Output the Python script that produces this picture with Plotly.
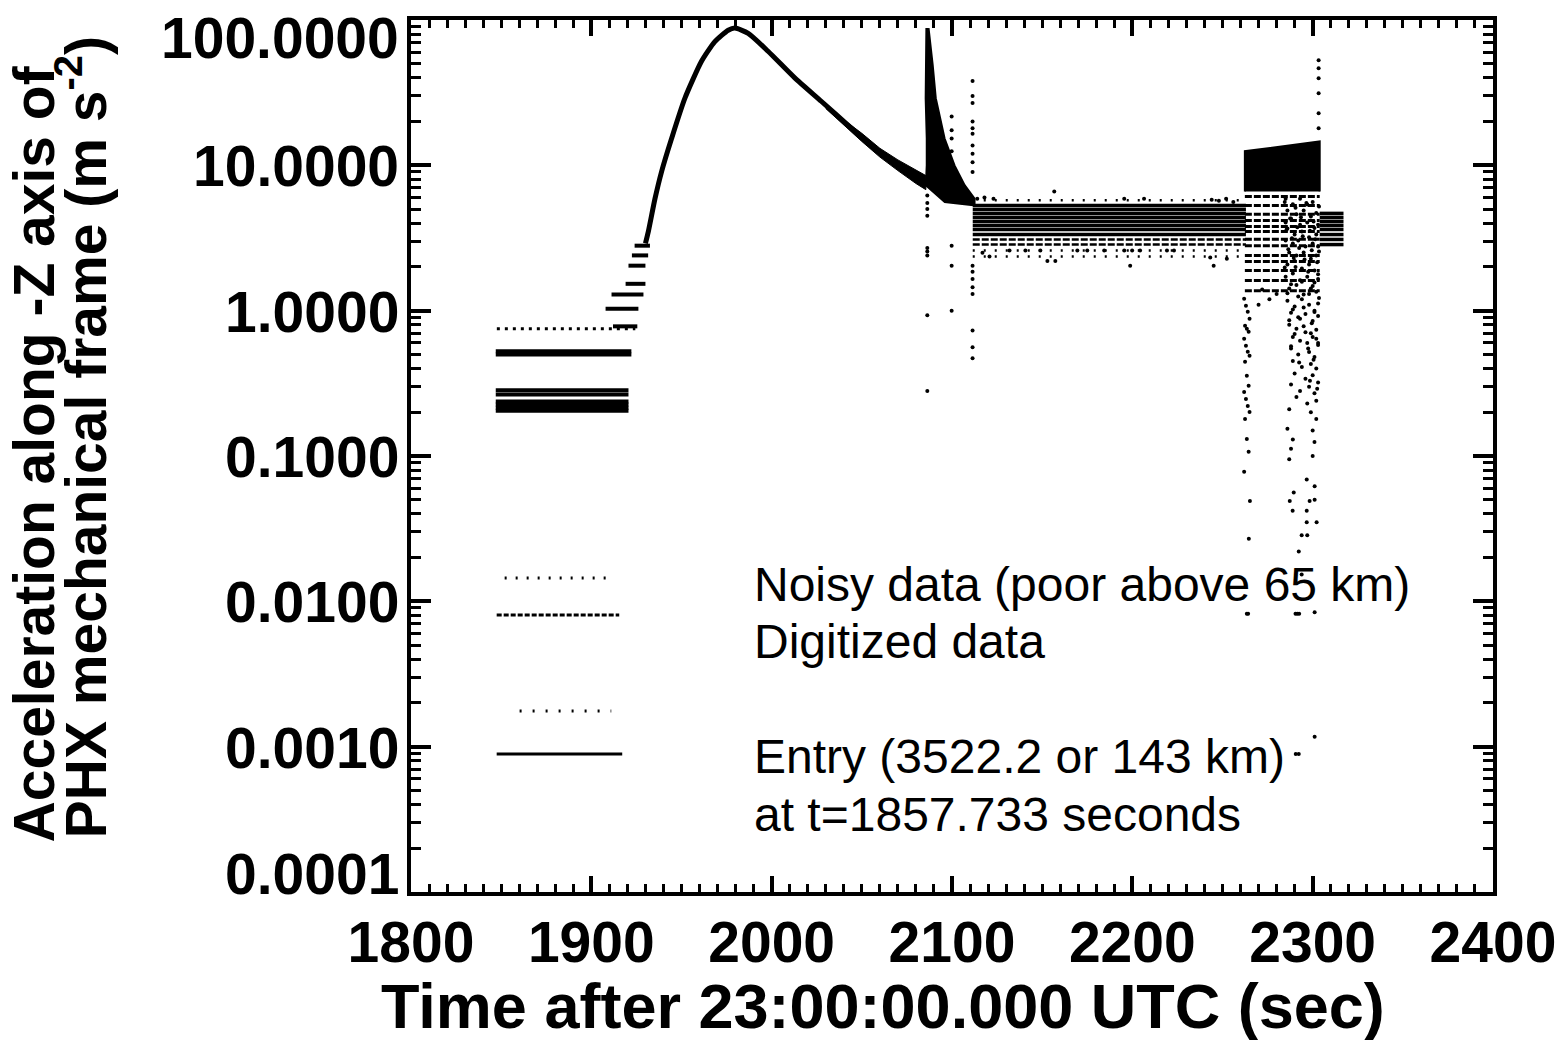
import math
import plotly.graph_objects as go

# ---------------- data ----------------
# quantised noisy bands before the main pulse: level, start, end (sec)
pre_band_v = [0.50, 0.525, 0.265, 0.283, 0.205, 0.215, 0.226, 0.237]
pre_band_t0 = [1847.0, 1847.0, 1847.0, 1847.0, 1847.0, 1847.0, 1847.0, 1847.0]
pre_band_t1 = [1922.2, 1922.2, 1920.6, 1920.6, 1920.6, 1920.6, 1920.6, 1920.6]

sparse_pre_v = [0.75]
sparse_pre_t0 = [1847.6]
sparse_pre_t1 = [1924.4]

# quantisation steps on the rising edge
step_v = [0.78, 1.03, 1.29, 1.53, 2.04, 2.4, 2.8]
step_t0 = [1912.0, 1907.9, 1911.2, 1919.0, 1920.6, 1922.5, 1924.0]
step_t1 = [1925.5, 1926.1, 1928.9, 1930.0, 1930.0, 1931.5, 1932.5]

# digitized deceleration pulse
curve_t = [1930.0, 1931.6, 1935.3, 1939.0, 1944.5, 1951.9, 1961.1, 1968.5, 1975.9,
           1979.6, 1987.0, 1998.0, 2012.8, 2027.5, 2042.3, 2057.0, 2075.4, 2085.5]
curve_v = [2.9, 3.5, 5.9, 9.1, 15.3, 29.0, 52.0, 71.0, 85.0,
           88.0, 81.0, 61.0, 40.0, 27.6, 18.9, 13.1, 9.1, 7.6]

# widening noise envelope on the decay
env_t = [2030.0, 2040.0, 2050.0, 2060.0, 2070.0, 2080.0, 2085.5]
env_hi = [26.6, 20.6, 16.6, 13.1, 10.9, 9.3, 8.5]
env_lo = [24.6, 18.9, 14.6, 11.4, 9.2, 7.5, 6.8]

# parachute-deploy spike and its decay (outline of dense region)
spike_t = [2085.8, 2085.5, 2085.4, 2086.0, 2086.0, 2085.5, 2096.0, 2112.5,
           2112.5, 2107.0, 2101.4, 2095.9, 2091.0, 2089.3, 2087.0]
spike_v = [88.0, 49.0, 29.0, 15.3, 10.0, 7.3, 5.6, 5.3,
           5.9, 7.3, 10.0, 15.3, 29.0, 49.0, 88.0]

# quantised plateau levels under parachute
plat_v = [5.30, 4.97, 4.67, 4.38, 4.11, 3.86, 3.62, 3.34]
plat_mid_v = [3.09, 2.85]
plat_sparse_v = [5.75, 2.59, 2.36]
plat_t0 = 2111.5
plat_t1 = 2263.0
post_v = [4.67, 4.38, 4.11, 3.86, 3.62, 3.34, 3.09, 2.85]
post_t0 = 2303.9
post_t1 = 2317.1

# heat-shield / leg deploy dense block outline
block_t = [2262.4, 2262.4, 2303.9, 2303.9]
block_v = [6.6, 12.5, 14.6, 6.6]
block_stripe_v = [6.1, 5.3, 4.6, 4.17, 3.8, 3.5, 3.1, 2.8, 2.4, 2.18, 1.89, 1.61, 1.37]
block_stripe_t0 = 2262.4
block_stripe_t1 = 2303.9

# individual scattered samples
dot_t = [
    2086.3, 2086.3, 2086.3, 2086.3, 2086.3, 2086.3, 2086.3, 2086.3, 2086.3,
    2099.8, 2099.8, 2099.8, 2099.8, 2099.8, 2099.8, 2099.8,
    2111.4, 2111.4, 2111.4, 2111.4, 2111.4, 2111.4, 2111.4, 2111.4, 2111.4, 2111.4,
    2111.4, 2111.4, 2111.4, 2111.4, 2111.4, 2111.4, 2111.4, 2111.4,
    2116.9, 2120.8, 2131.9, 2140.7, 2149.0, 2152.9, 2157.3, 2169.5, 2175.0, 2184.4,
    2195.5, 2198.8, 2199.9, 2204.3, 2219.2, 2223.1, 2243.2, 2245.1, 2252.4,
    2114.0, 2118.0, 2123.0, 2156.7, 2195.5, 2206.5, 2244.0, 2248.0, 2252.0, 2256.0,
    2303.3, 2303.3, 2303.3, 2303.3, 2303.3, 2303.3,
    2262.0, 2263.0, 2264.0, 2265.0, 2262.5, 2263.5, 2264.5, 2262.0, 2263.0, 2264.0,
    2265.0, 2262.5, 2263.5, 2264.5, 2262.0, 2263.0, 2264.0, 2265.0, 2262.5, 2263.5,
    2264.5, 2262.0, 2265.2, 2264.6, 2263.5, 2264.2,
    2272.0, 2276.0, 2270.0, 2280.0,
    2285, 2289, 2293, 2297, 2300, 2286, 2291, 2295, 2299, 2302,
    2285, 2288, 2293, 2297, 2301, 2286, 2290, 2294, 2298, 2302,
    2285, 2289, 2292, 2296, 2300, 2303, 2287, 2291, 2295, 2299, 2302,
    2286, 2290, 2294, 2298, 2301, 2285, 2289, 2293, 2297, 2301, 2303,
    2287, 2291, 2295, 2299, 2302, 2286, 2290, 2294, 2298, 2301, 2303,
    2288, 2292, 2296, 2300, 2303, 2287, 2291, 2295, 2299, 2302,
    2289, 2293, 2297, 2300, 2303, 2288, 2292, 2298, 2301,
    2289, 2294, 2299, 2302, 2290, 2296, 2300, 2303,
    2288, 2293, 2298, 2301, 2291, 2297, 2302, 2287, 2299, 2302,
    2286, 2300, 2289, 2301, 2288, 2300, 2287, 2296.7, 2289.5, 2301.1, 2301.1,
    2287.3, 2298.3, 2288.9, 2296.7, 2296.7, 2302.2, 2293.9, 2297.0, 2292.3, 2293.9,
    2290.5, 2291.5, 2292.5, 2301.1, 2301.1, 2290.6, 2292.3,
    2284.5, 2290.5, 2296.5, 2303.5, 2287.5, 2293.5, 2300.5, 2285.5, 2291.5, 2298.5,
    2303.0, 2288.5, 2294.5, 2301.5, 2286.5, 2292.5, 2299.5, 2303.5, 2289.5, 2295.5,
    2302.5, 2284.5, 2290.5, 2297.5, 2303.0, 2288.0, 2294.0, 2300.0, 2286.0, 2292.0,
    2298.0, 2303.5, 2289.0, 2295.0, 2301.0, 2287.0, 2293.0, 2299.5, 2290.0, 2296.0,
    2302.0, 2288.0, 2297.5, 2303.0, 2292.5, 2300.5, 2298.5, 2302.5,
]
dot_v = [
    0.28, 0.93, 2.4, 2.55, 2.7, 4.5, 5.0, 5.5, 6.2,
    21.7, 17.4, 15.3, 12.5, 2.8, 2.04, 1.0,
    38.0, 30.0, 26.8, 20.0, 18.0, 16.5, 13.7, 12.0, 10.5, 9.0,
    2.04, 1.85, 1.65, 1.45, 1.3, 0.73, 0.56, 0.47,
    2.5, 2.36, 2.59, 2.59, 2.59, 2.2, 2.2, 2.59, 2.59, 2.59,
    2.59, 2.04, 2.59, 2.59, 2.59, 2.59, 2.32, 2.04, 2.28,
    5.9, 6.0, 5.9, 6.6, 5.9, 5.9, 5.8, 5.7, 5.9, 5.6,
    52.8, 46.6, 39.8, 31.3, 22.8, 18.0,
    1.21, 1.08, 0.984, 0.881, 0.788, 0.751, 0.717, 0.641, 0.574, 0.522,
    0.489, 0.445, 0.356, 0.304, 0.276, 0.247, 0.221, 0.201, 0.180, 0.131,
    0.107, 0.078, 0.049, 0.027, 0.0082, 0.0082,
    1.4, 1.2, 1.1, 1.3,
    5.9, 5.4, 5.9, 5.38, 5.6, 4.89, 4.6, 4.89, 4.45, 4.7,
    4.05, 4.3, 3.9, 4.05, 3.7, 3.68, 3.34, 3.5, 3.2, 3.34,
    3.04, 2.9, 3.04, 2.76, 2.9, 2.76, 2.51, 2.4, 2.51, 2.28, 2.4,
    2.08, 2.2, 1.95, 2.08, 1.89, 1.71, 1.8, 1.62, 1.71, 1.56, 1.65,
    1.42, 1.5, 1.29, 1.42, 1.35, 1.17, 1.07, 1.2, 1.1, 1.0, 1.12,
    0.969, 0.9, 0.95, 0.85, 0.92, 0.8, 0.75, 0.78, 0.7, 0.74,
    0.66, 0.62, 0.6, 0.66, 0.58, 0.55, 0.5, 0.52, 0.48,
    0.45, 0.41, 0.43, 0.4, 0.37, 0.34, 0.36, 0.32,
    0.31, 0.28, 0.3, 0.27, 0.255, 0.23, 0.24, 0.21, 0.2, 0.18,
    0.154, 0.15, 0.13, 0.125, 0.112, 0.1, 0.095, 0.069, 0.056, 0.062, 0.05,
    0.049, 0.049, 0.042, 0.042, 0.035, 0.035, 0.0285, 0.0285, 0.022, 0.0153,
    0.0082, 0.0082, 0.0082, 0.0084, 0.00117, 0.00089, 0.00089,
    5.6, 5.1, 5.5, 5.2, 4.3, 4.4, 4.1, 3.6, 3.75, 3.55,
    3.9, 3.15, 3.25, 3.1, 2.65, 2.7, 2.6, 2.55, 2.3, 2.25,
    2.15, 1.98, 2.0, 1.85, 1.78, 1.52, 1.58, 1.48, 1.32, 1.25,
    1.3, 1.22, 1.02, 1.05, 0.98, 0.86, 0.88, 0.82, 0.69, 0.71,
    0.64, 0.57, 0.55, 0.6, 0.44, 0.46, 0.33, 0.29,
]

x_ticks = [1800, 1900, 2000, 2100, 2200, 2300, 2400]
y_ticks = [100, 10, 1, 0.1, 0.01, 0.001, 0.0001]
y_tick_text = ["100.0000", "10.0000", "1.0000", "0.1000", "0.0100", "0.0010", "0.0001"]
legend_text = ["Noisy data (poor above 65 km)", "Digitized data",
               "Entry (3522.2 or 143 km)", "at t=1857.733 seconds"]

# ---------------- helpers ----------------
def segments(levels, t0s, t1s):
    xs, ys = [], []
    for v, a, b in zip(levels, t0s, t1s):
        xs += [a, b, None]
        ys += [v, v, None]
    return xs, ys

BLACK = "black"
fig = go.Figure()

def add_seg(levels, t0s, t1s, width, dash="solid"):
    xs, ys = segments(levels, t0s, t1s)
    fig.add_trace(go.Scatter(x=xs, y=ys, mode="lines", showlegend=False,
                             line=dict(color=BLACK, width=width, dash=dash),
                             hoverinfo="skip"))

def rep(v, n):
    return [v] * n

add_seg(pre_band_v, pre_band_t0, pre_band_t1, 4)
add_seg(sparse_pre_v, sparse_pre_t0, sparse_pre_t1, 3, "3px,5px")
add_seg(step_v, step_t0, step_t1, 4)
add_seg(plat_v, rep(plat_t0, len(plat_v)), rep(plat_t1, len(plat_v)), 3.5)
add_seg(plat_mid_v, rep(plat_t0, 2), rep(plat_t1, 2), 2.5, "7px,2px")
add_seg(plat_sparse_v, rep(plat_t0, 3), rep(plat_t1, 3), 2.5, "2px,9px")
add_seg(post_v, rep(post_t0, len(post_v)), rep(post_t1, len(post_v)), 3.5)
add_seg(block_stripe_v, rep(block_stripe_t0, len(block_stripe_v)),
        rep(block_stripe_t1, len(block_stripe_v)), 3, "7px,2px")

fig.add_trace(go.Scatter(x=env_t + env_t[::-1], y=env_hi + env_lo[::-1], mode="lines",
                         fill="toself", fillcolor=BLACK, line=dict(color=BLACK, width=1),
                         showlegend=False, hoverinfo="skip"))
fig.add_trace(go.Scatter(x=spike_t, y=spike_v, mode="lines", fill="toself",
                         fillcolor=BLACK, line=dict(color=BLACK, width=2),
                         showlegend=False, hoverinfo="skip"))
fig.add_trace(go.Scatter(x=block_t, y=block_v, mode="lines", fill="toself",
                         fillcolor=BLACK, line=dict(color=BLACK, width=2),
                         showlegend=False, hoverinfo="skip"))
fig.add_trace(go.Scatter(x=curve_t, y=curve_v, mode="lines",
                         line=dict(color=BLACK, width=5, shape="spline", smoothing=0.6),
                         showlegend=False, hoverinfo="skip"))
fig.add_trace(go.Scatter(x=dot_t, y=dot_v, mode="markers",
                         marker=dict(color=BLACK, size=4, symbol="circle"),
                         showlegend=False, hoverinfo="skip"))

# ---------------- layout ----------------
W, H = 1568, 1040
PL, PR, PT, PB = 411, 1497, 20, 892   # plot area in page pixels

def pxx(x):
    return (x - PL) / (PR - PL)

def pxy(y):
    return (PB - y) / (PB - PT)

FAM = "Liberation Sans, Arial, sans-serif"
bold = dict(family=FAM, color=BLACK, weight="bold")

fig.update_layout(
    width=W, height=H,
    margin=dict(l=PL, r=W - PR, t=PT, b=H - PB, pad=0),
    plot_bgcolor="white", paper_bgcolor="white",
    showlegend=False,
)
fig.update_xaxes(
    range=[1800, 2400], tickmode="array", tickvals=x_ticks,
    ticktext=[str(v) for v in x_ticks],
    showgrid=False, zeroline=False,
    showline=True, linewidth=4, linecolor=BLACK, mirror="allticks",
    ticks="inside", ticklen=16, tickwidth=4, tickcolor=BLACK,
    minor=dict(ticks="inside", ticklen=8, tickwidth=3, tickcolor=BLACK, dtick=10,
               showgrid=False),
    tickfont=dict(size=57, **bold),
    ticklabelstandoff=-2,
)
fig.update_yaxes(
    type="log", range=[-4, 2], dtick=1, showticklabels=False,
    showgrid=False, zeroline=False,
    showline=True, linewidth=4, linecolor=BLACK, mirror="allticks",
    ticks="inside", ticklen=20, tickwidth=4, tickcolor=BLACK,
    minor=dict(ticks="inside", ticklen=10, tickwidth=3, tickcolor=BLACK, dtick="D1",
               showgrid=False),
)

ann = []
# y tick labels (end labels nudged inward, as in the original)
for i, (v, t) in enumerate(zip(y_ticks, y_tick_text)):
    shift = -1
    if i == 0:
        shift = -18
    elif i == len(y_ticks) - 1:
        shift = 18
    ann.append(dict(text=t, x=pxx(401), y=math.log10(v), xref="paper", yref="y",
                    xanchor="right", yanchor="middle", yshift=shift, showarrow=False,
                    font=dict(size=57, **bold)))
ann.append(dict(text="Time after 23:00:00.000 UTC (sec)", x=pxx(885), y=pxy(1006),
                xref="paper", yref="paper", xanchor="center", yanchor="middle",
                showarrow=False, font=dict(size=63, **bold)))
ann.append(dict(text="Acceleration along -Z axis of", x=pxx(33), y=pxy(454),
                xref="paper", yref="paper", xanchor="center", yanchor="middle",
                textangle=-90, showarrow=False, font=dict(size=57, **bold)))
ann.append(dict(text="PHX mechanical frame (m s<sup>-2</sup>)", x=pxx(81), y=pxy(437),
                xref="paper", yref="paper", xanchor="center", yanchor="middle",
                textangle=-90, showarrow=False, font=dict(size=57, **bold)))
reg = dict(family=FAM, color=BLACK, size=48)
for txt, yy in zip(legend_text, [584, 641, 756, 814]):
    ann.append(dict(text=txt, x=pxx(753), y=pxy(yy), xref="paper", yref="paper",
                    xanchor="left", yanchor="middle", showarrow=False, font=reg))

shapes = []
for (x0, x1, yy, dash, w) in [(505, 612, 578, "2px,9px", 3),
                              (497, 620, 615, "5px,2px", 3),
                              (520, 612, 711, "2px,11px", 3),
                              (497, 623, 754, "solid", 3)]:
    shapes.append(dict(type="line", xref="paper", yref="paper",
                       x0=pxx(x0), x1=pxx(x1), y0=pxy(yy), y1=pxy(yy),
                       line=dict(color=BLACK, width=w, dash=dash)))

fig.update_layout(annotations=ann, shapes=shapes)
fig.write_html("out.html", config={"displayModeBar": False},
               post_script="document.body.style.margin='0';"
                           "document.body.style.overflow='hidden';")
